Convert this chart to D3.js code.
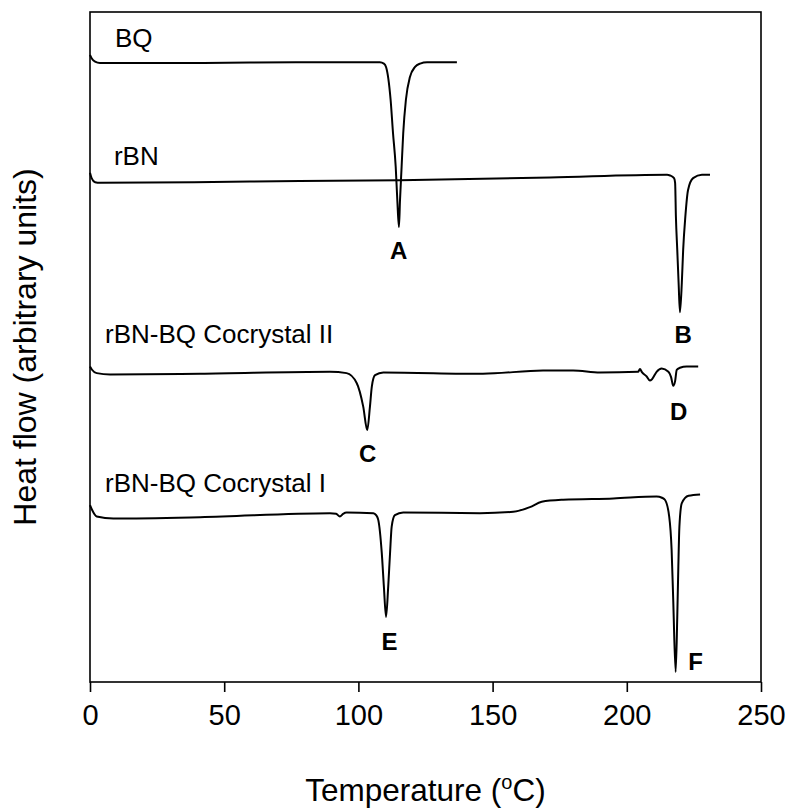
<!DOCTYPE html>
<html>
<head>
<meta charset="utf-8">
<script src="https://cdn.jsdelivr.net/npm/d3@7"></script>
<style>
  body { margin: 0; background: #fff; }
  svg text { font-family: 'Liberation Sans', Arial, sans-serif; fill: #000; }
</style>
</head>
<body>
<div class="dscWrapper"></div>
<script>
// Temperature (°C) and heat flow (arbitrary units)
let bqTemp = [0, 0.6, 1.9, 3.7, 41.0, 78.2, 108.0, 109.5, 110.3, 112.0, 112.9, 113.9, 114.5, 115.1, 115.5, 116.1, 116.7, 117.7, 119.2, 121.1, 123.0, 125.6, 136.7];
let bqFlow = [93.6, 93.1, 92.6, 92.4, 92.4, 92.5, 92.5, 92.3, 91.8, 86.9, 81.9, 76.9, 71.9, 67.9, 71.9, 76.9, 81.9, 86.9, 90.3, 91.8, 92.3, 92.5, 92.5];

let rbnTemp = [0, 0.6, 1.9, 3.7, 59.6, 115.5, 171.4, 215.0, 216.1, 217.6, 218.0, 218.3, 218.8, 219.3, 219.8, 220.5, 221.0, 221.8, 222.8, 224.7, 228.0, 231.0];
let rbnFlow = [76.0, 75.2, 74.6, 74.5, 74.7, 74.9, 75.3, 75.7, 75.6, 75.2, 74.5, 69.4, 64.5, 59.6, 55.2, 59.6, 64.5, 69.4, 73.4, 75.2, 75.7, 75.7];

let co2Temp = [0, 0.75, 2.5, 7.5, 41.0, 89.4, 95.6, 99.4, 101.8, 103.3, 104.3, 105.0, 106.2, 109.3, 146.4, 168.8, 180.0, 190.0, 204.2, 204.9, 205.7, 207.4, 208.6, 209.4, 211.1, 213.0, 215.5, 216.5, 217.3, 218.0, 218.6, 219.8, 222.3, 226.6];
let co2Flow = [47.1, 46.6, 46.1, 45.9, 46.0, 46.3, 46.1, 44.6, 41.1, 37.6, 41.1, 44.1, 45.8, 46.2, 46.0, 46.5, 46.5, 46.2, 46.3, 46.7, 46.2, 45.6, 45.0, 45.2, 46.3, 46.8, 46.3, 45.5, 44.2, 44.9, 46.6, 46.9, 47.1, 47.1];

let co1Temp = [0, 0.75, 2.5, 8.7, 41.0, 89.4, 91.7, 93.1, 94.3, 95.6, 105.6, 106.6, 107.4, 108.7, 109.5, 110.3, 111.1, 111.8, 112.4, 113.6, 116.7, 145.3, 157.7, 163.9, 168.3, 176.3, 195.0, 211.1, 213.1, 214.2, 215.8, 216.7, 217.3, 218.2, 218.8, 219.2, 219.6, 220.5, 223.0, 227.3];
let co1Flow = [26.4, 25.7, 24.7, 24.4, 24.6, 25.2, 25.1, 24.7, 25.1, 25.3, 25.2, 24.9, 24.2, 19.3, 14.2, 9.7, 14.2, 19.3, 23.2, 24.9, 25.3, 25.2, 25.4, 26.1, 26.9, 27.2, 27.4, 27.7, 27.5, 27.2, 24.7, 19.7, 12.2, 1.5, 9.7, 17.2, 23.2, 26.7, 27.8, 28.0];

let seriesNames = ['BQ', 'rBN', 'rBN-BQ Cocrystal II', 'rBN-BQ Cocrystal I'];
// where each curve name sits (temperature, heat flow)
let nameTemp = [9.3, 8.9, 5.6, 5.6];
let nameFlow = [94.8, 77.1, 50.6, 28.4];

let peakNames = ['A', 'B', 'C', 'D', 'E', 'F'];
let peakTemp = [115.0, 221.0, 103.5, 219.3, 111.6, 225.6];
let peakFlow = [63.1, 50.6, 32.9, 39.1, 4.8, 1.8];

let xTicks = [0, 50, 100, 150, 200, 250];

let series = [
	{ temp: bqTemp, flow: bqFlow },
	{ temp: rbnTemp, flow: rbnFlow },
	{ temp: co2Temp, flow: co2Flow },
	{ temp: co1Temp, flow: co1Flow }
];

let margin = { left: 90, top: 12, right: 29, bottom: 126 },
	width = 790,
	height = 808,
	innerW = width - margin.left - margin.right,
	innerH = height - margin.top - margin.bottom,
	svg,
	plot,
	xScale,
	yScale,
	xAxis,
	line;

svg = d3.select('.dscWrapper')
	.append('svg')
	.attr('width', width)
	.attr('height', height);

plot = svg.append('g')
	.attr('transform', 'translate(' + margin.left + ',' + margin.top + ')');

xScale = d3.scaleLinear()
	.domain([0, 250])
	.range([0, innerW]);

yScale = d3.scaleLinear()
	.domain([0, 100])
	.range([innerH, 0]);

//Frame round the plot
plot.append('rect')
	.attr('x', 0)
	.attr('y', 0)
	.attr('width', innerW)
	.attr('height', innerH)
	.attr('fill', 'none')
	.attr('stroke', '#000')
	.attr('stroke-width', 1.6);

//Bottom axis, ticks pointing out
xAxis = d3.axisBottom(xScale)
	.tickValues(xTicks)
	.tickFormat(d3.format('d'))
	.tickSize(10)
	.tickPadding(12);

plot.append('g')
	.attr('class', 'xaxis')
	.attr('transform', 'translate(0,' + innerH + ')')
	.call(xAxis)
	.call(g => g.select('.domain').remove())
	.call(g => g.selectAll('line').attr('stroke', '#000').attr('stroke-width', 1.6))
	.call(g => g.selectAll('text')
		.style('font-size', '29px')
		.style('font-family', "'Liberation Sans', Arial, sans-serif")
		.attr('fill', '#000'));

//Thermogram curves
line = d3.line()
	.x(d => xScale(d[0]))
	.y(d => yScale(d[1]))
	.curve(d3.curveMonotoneX);

plot.selectAll('path.curve')
	.data(series)
	.enter()
	.append('path')
	.attr('class', 'curve')
	.attr('fill', 'none')
	.attr('stroke', '#000')
	.attr('stroke-width', 2)
	.attr('stroke-linejoin', 'round')
	.attr('d', s => line(s.temp.map((t, i) => [t, s.flow[i]])));

//Curve names
plot.selectAll('text.name')
	.data(seriesNames)
	.enter()
	.append('text')
	.attr('class', 'name')
	.attr('x', (d, i) => xScale(nameTemp[i]))
	.attr('y', (d, i) => yScale(nameFlow[i]))
	.style('font-size', '26px')
	.text(d => d);

//Peak letters
plot.selectAll('text.peak')
	.data(peakNames)
	.enter()
	.append('text')
	.attr('class', 'peak')
	.attr('x', (d, i) => xScale(peakTemp[i]))
	.attr('y', (d, i) => yScale(peakFlow[i]))
	.attr('text-anchor', 'middle')
	.style('font-size', '24px')
	.style('font-weight', 'bold')
	.text(d => d);

//Axis titles
let xTitle = svg.append('text')
	.attr('x', margin.left + innerW / 2)
	.attr('y', 801)
	.attr('text-anchor', 'middle')
	.style('font-size', '31.5px');
xTitle.append('tspan').text('Temperature (');
xTitle.append('tspan').attr('dy', -12).style('font-size', '20px').text('o');
xTitle.append('tspan').attr('dy', 12).text('C)');

svg.append('text')
	.attr('transform', 'translate(36,' + (margin.top + innerH / 2) + ') rotate(-90)')
	.attr('text-anchor', 'middle')
	.style('font-size', '32px')
	.text('Heat flow (arbitrary units)');
</script>
</body>
</html>
